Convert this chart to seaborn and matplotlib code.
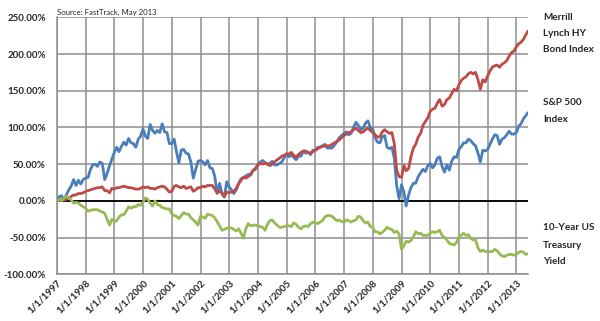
import numpy as np
import pandas as pd
import matplotlib
matplotlib.use("Agg")
import matplotlib.pyplot as plt
import seaborn as sns

# ---------------- data (cumulative % change since 1/1/1997, month-end readings) -------------
series_names = ["S&P 500 Index", "Merrill Lynch HY Bond Index", "10-Year US Treasury Yield"]

sp500 = [0,
    6, 7, 2, 8, 15, 20, 29, 21, 28, 23, 29, 31,
    32, 42, 49, 50, 47, 53, 51, 29, 37, 48, 57, 66,
    73, 67, 74, 80, 76, 85, 79, 78, 73, 84, 88, 98,
    88, 85, 104, 96, 92, 96, 93, 105, 94, 93, 78, 78,
    84, 67, 52, 69, 70, 65, 64, 53, 31, 43, 54, 55,
    53, 49, 55, 45, 44, 34, 10, 24, 10, 5, 26, 19,
    15, 10, 15, 24, 30, 32, 34, 36, 35, 42, 43, 50,
    53, 55, 52, 50, 51, 54, 49, 49, 51, 53, 59, 64,
    60, 63, 59, 56, 61, 61, 67, 65, 66, 63, 69, 69,
    73, 73, 75, 77, 72, 72, 72, 76, 80, 86, 89, 92,
    94, 90, 92, 100, 107, 103, 97, 99, 106, 109, 100, 98,
    86, 80, 79, 87, 89, 73, 71, 73, 58, 20, 3, 22,
    12, -7, 8, 18, 24, 24, 33, 38, 43, 40, 48, 51,
    45, 49, 58, 60, 47, 39, 49, 42, 54, 60, 59, 70,
    74, 79, 79, 84, 82, 78, 75, 65, 53, 69, 68, 70,
    77, 84, 90, 89, 77, 84, 86, 90, 95, 91, 91, 93,
    102, 105, 112, 116,
    120]

ml_hy = [0,
    1, 2, 1, 2, 4, 6, 8, 8, 10, 10, 11, 13,
    14, 15, 16, 17, 18, 18, 19, 14, 14, 11, 17, 16,
    18, 18, 19, 20, 19, 18, 18, 17, 16, 16, 17, 19,
    18, 19, 17, 17, 16, 18, 19, 20, 19, 16, 12, 13,
    20, 21, 19, 18, 20, 17, 18, 19, 13, 15, 18, 18,
    20, 19, 21, 21, 21, 16, 11, 13, 11, 6, 12, 11,
    12, 13, 17, 23, 28, 32, 31, 33, 37, 41, 44, 49,
    51, 50, 52, 50, 48, 50, 53, 56, 58, 61, 62, 64,
    64, 66, 62, 60, 63, 66, 68, 68, 66, 65, 67, 69,
    71, 73, 74, 75, 75, 75, 77, 79, 81, 83, 86, 89,
    91, 93, 94, 97, 99, 96, 93, 94, 97, 99, 96, 93,
    90, 87, 87, 94, 97, 94, 92, 93, 78, 42, 33, 32,
    48, 41, 44, 60, 72, 77, 87, 92, 103, 108, 113, 122,
    125, 126, 133, 138, 129, 131, 138, 140, 146, 152, 150, 158,
    164, 167, 169, 173, 175, 173, 175, 165, 152, 165, 162, 170,
    177, 182, 184, 185, 182, 186, 188, 191, 197, 202, 204, 210,
    214, 216, 220, 226,
    231]

ust10 = [0,
    2, 0, 4, 6, 4, 1, -3, -2, -3, -6, -8, -10,
    -14, -13, -12, -12, -12, -14, -15, -17, -25, -33, -25, -28,
    -27, -22, -19, -19, -14, -8, -10, -8, -8, -5, -6, -2,
    4, 2, -3, -7, 0, -5, -6, -9, -10, -11, -11, -18,
    -20, -21, -24, -20, -16, -18, -18, -23, -26, -29, -33, -21,
    -22, -24, -18, -19, -20, -23, -28, -34, -40, -39, -37, -37,
    -37, -39, -41, -38, -44, -51, -38, -31, -34, -33, -33, -34,
    -35, -36, -40, -32, -27, -26, -30, -33, -36, -36, -35, -34,
    -34, -35, -30, -32, -36, -38, -35, -34, -35, -31, -29, -30,
    -31, -29, -27, -22, -20, -20, -21, -24, -27, -26, -28, -29,
    -26, -27, -29, -27, -26, -21, -22, -27, -30, -29, -35, -36,
    -42, -42, -45, -43, -40, -36, -38, -39, -43, -41, -45, -66,
    -61, -55, -56, -54, -49, -42, -45, -44, -47, -47, -47, -44,
    -42, -43, -42, -40, -47, -50, -53, -58, -59, -60, -57, -49,
    -47, -44, -47, -46, -51, -53, -53, -64, -69, -67, -69, -69,
    -69, -69, -66, -68, -72, -75, -76, -74, -73, -73, -74, -73,
    -70, -69, -70, -73,
    -72]

year_ticks = list(range(1997, 2014))
y_ticks = [-100, -50, 0, 50, 100, 150, 200, 250]
source_note = "Source: FastTrack, May 2013"
side_labels = [["Merrill", "Lynch HY", "Bond Index"], ["S&P 500", "Index"], ["10-Year US", "Treasury", "Yield"]]

# ---------------- build table ----------------
dates = ([pd.Timestamp("1997-01-01")]
         + list(pd.date_range("1997-01-31", "2013-04-30", freq="ME"))
         + [pd.Timestamp("2013-05-24")])
frames = []
for name, vals in zip(series_names, [sp500, ml_hy, ust10]):
    frames.append(pd.DataFrame({"date": dates, "value": vals, "series": name}))
df = pd.concat(frames, ignore_index=True)

# ---------------- style ----------------
sns.set_style("white")
plt.rcParams["font.family"] = ["Lato", "DejaVu Sans"]

W, H = 600, 321
fig = plt.figure(figsize=(W / 100, H / 100), dpi=100)
L, R, T, B = 57, 528, 17.3, 274.3
ax = fig.add_axes([L / W, 1 - B / H, (R - L) / W, (B - T) / H])

palette = {series_names[0]: "#4A7EBB", series_names[1]: "#BE4B48", series_names[2]: "#98B954"}
sns.lineplot(data=df, x="date", y="value", hue="series", hue_order=series_names,
             palette=palette, linewidth=2.0, estimator=None, legend=False, ax=ax)

grid_c = "#8e8e8e"
ax.set_ylim(-100, 250)
ax.set_yticks(y_ticks)
ax.set_yticklabels([f"{v:.2f}%" for v in y_ticks], fontsize=7, fontweight="bold")
ax.set_xlim(pd.Timestamp("1997-01-01"), pd.Timestamp("2013-05-28"))
ax.set_xticks([pd.Timestamp(f"{y}-01-01") for y in year_ticks])
ax.set_xticklabels([f"1/1/{y}" for y in year_ticks], rotation=45, ha="right",
                   rotation_mode="anchor", fontsize=7, fontweight="bold")
ax.tick_params(axis="both", length=0)
ax.tick_params(axis="y", pad=8)
ax.tick_params(axis="x", pad=3)
ax.set_xlabel("")
ax.set_ylabel("")
ax.grid(True, color=grid_c, linewidth=1.1)
ax.set_axisbelow(True)
for s in ["top", "right"]:
    ax.spines[s].set_visible(False)
for s in ["left", "bottom"]:
    ax.spines[s].set_color(grid_c)
    ax.spines[s].set_linewidth(1.1)
ax.axhline(0, color="black", linewidth=1.3, zorder=1.5)

fig.text(L / W, 1 - 12.5 / H, source_note, fontsize=5.6, va="center", ha="left", color="#222222")

label_y = [[17, 34, 50], [103, 120], [228, 245, 262]]
for lines, ys in zip(side_labels, label_y):
    for txt, yy in zip(lines, ys):
        fig.text(543 / W, 1 - yy / H, txt, fontsize=7.2, fontweight="bold", va="center", ha="left")

fig.savefig("out.png", dpi=100)
